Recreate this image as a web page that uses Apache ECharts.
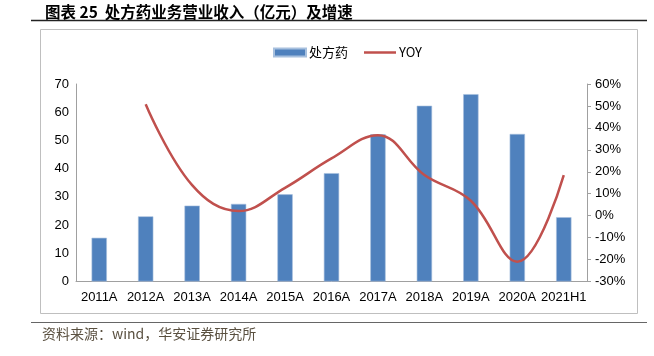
<!DOCTYPE html>
<html>
<head>
<meta charset="utf-8">
<script src="https://cdn.jsdelivr.net/npm/echarts@6/dist/echarts.min.js"></script>
<style>
html,body{margin:0;padding:0;background:#fff;}
#c{width:654px;height:356px;}
</style>
</head>
<body>
<div id="c"></div>
<script>
var categories = ['2011A','2012A','2013A','2014A','2015A','2016A','2017A','2018A','2019A','2020A','2021H1'];
var revenue = [15.5, 23.1, 26.9, 27.5, 30.9, 38.4, 52.2, 62.3, 66.4, 52.3, 22.8];
var yoy = [null, 50.8, 13.9, 2.1, 12.7, 26.1, 36.7, 18.5, 6.8, -21.0, 18.5];
var leftTicks = [0, 10, 20, 30, 40, 50, 60, 70];
var rightTicks = [-30, -20, -10, 0, 10, 20, 30, 40, 50, 60];

var chart = echarts.init(document.getElementById('c'), null, {renderer: 'canvas'});
var font = '"Liberation Sans", Arial, sans-serif';
chart.setOption({
  animation: false,
  textStyle: {fontFamily: font},
  title: {
    text: '图表 25  处方药业务营业收入（亿元）及增速',
    left: 40, top: -1,
    textStyle: {fontFamily: '"Noto Sans CJK SC", sans-serif', fontSize: 15.5, fontWeight: 'bold', color: '#000'}
  },
  graphic: [
    {type: 'line', shape: {x1: 31, y1: 20.5, x2: 647, y2: 20.5}, style: {stroke: '#222', lineWidth: 1.5}},
    {type: 'rect', shape: {x: 40.5, y: 29.5, width: 597, height: 284}, style: {fill: 'none', stroke: '#bfbfbf', lineWidth: 1}},
    {type: 'line', shape: {x1: 31, y1: 322.5, x2: 647, y2: 322.5}, style: {stroke: '#666', lineWidth: 1.2}},
    {type: 'text', left: 42, top: 327, style: {text: '资料来源：wind，华安证券研究所', fill: '#5a5040', font: '14px "Noto Sans CJK SC", sans-serif'}}
  ],
  legend: {
    top: 41, left: 268,
    itemWidth: 32, itemHeight: 8, itemGap: 16,
    textStyle: {fontSize: 13, color: '#000', fontFamily: '"Noto Sans CJK SC", sans-serif', padding: [0,0,0,-2]},
    data: [{name: '处方药', icon: 'rect'}, {name: 'YOY', icon: 'path://M0,0 L32,0 L32,2.5 L0,2.5 Z'}]
  },
  grid: {left: 76, right: 67, top: 84, bottom: 74.5, containLabel: false},
  xAxis: {
    type: 'category', data: categories,
    axisLine: {lineStyle: {color: '#a0a0a0', width: 1}},
    axisTick: {show: false},
    axisLabel: {color: '#000', fontSize: 13, margin: 9, interval: 0}
  },
  yAxis: [
    {
      type: 'value', min: 0, max: 70, interval: 10,
      axisLine: {show: true, lineStyle: {color: '#a0a0a0'}},
      axisTick: {show: false},
      splitLine: {show: false},
      axisLabel: {color: '#000', fontSize: 13, margin: 7,
        formatter: function(v){ return leftTicks.indexOf(v) >= 0 ? String(v) : ''; }}
    },
    {
      type: 'value', min: -30, max: 60, interval: 10,
      axisLine: {show: true, lineStyle: {color: '#a0a0a0'}},
      axisTick: {show: true, length: 4, inside: false, lineStyle: {color: '#a0a0a0'}},
      splitLine: {show: false},
      axisLabel: {color: '#000', fontSize: 13, margin: 8,
        formatter: function(v){ return rightTicks.indexOf(v) >= 0 ? v + '%' : ''; }}
    }
  ],
  series: [
    {
      name: '处方药', type: 'bar', data: revenue, barWidth: '33%',
      itemStyle: {color: '#4F81BD', borderColor: '#A7C0DE', borderWidth: 0.6}
    },
    {
      name: 'YOY', type: 'line', yAxisIndex: 1, data: yoy,
      smooth: 0.4, symbol: 'none', connectNulls: false,
      lineStyle: {color: '#C0504D', width: 2.5}, itemStyle: {color: '#C0504D'}
    }
  ]
});
</script>
</body>
</html>
